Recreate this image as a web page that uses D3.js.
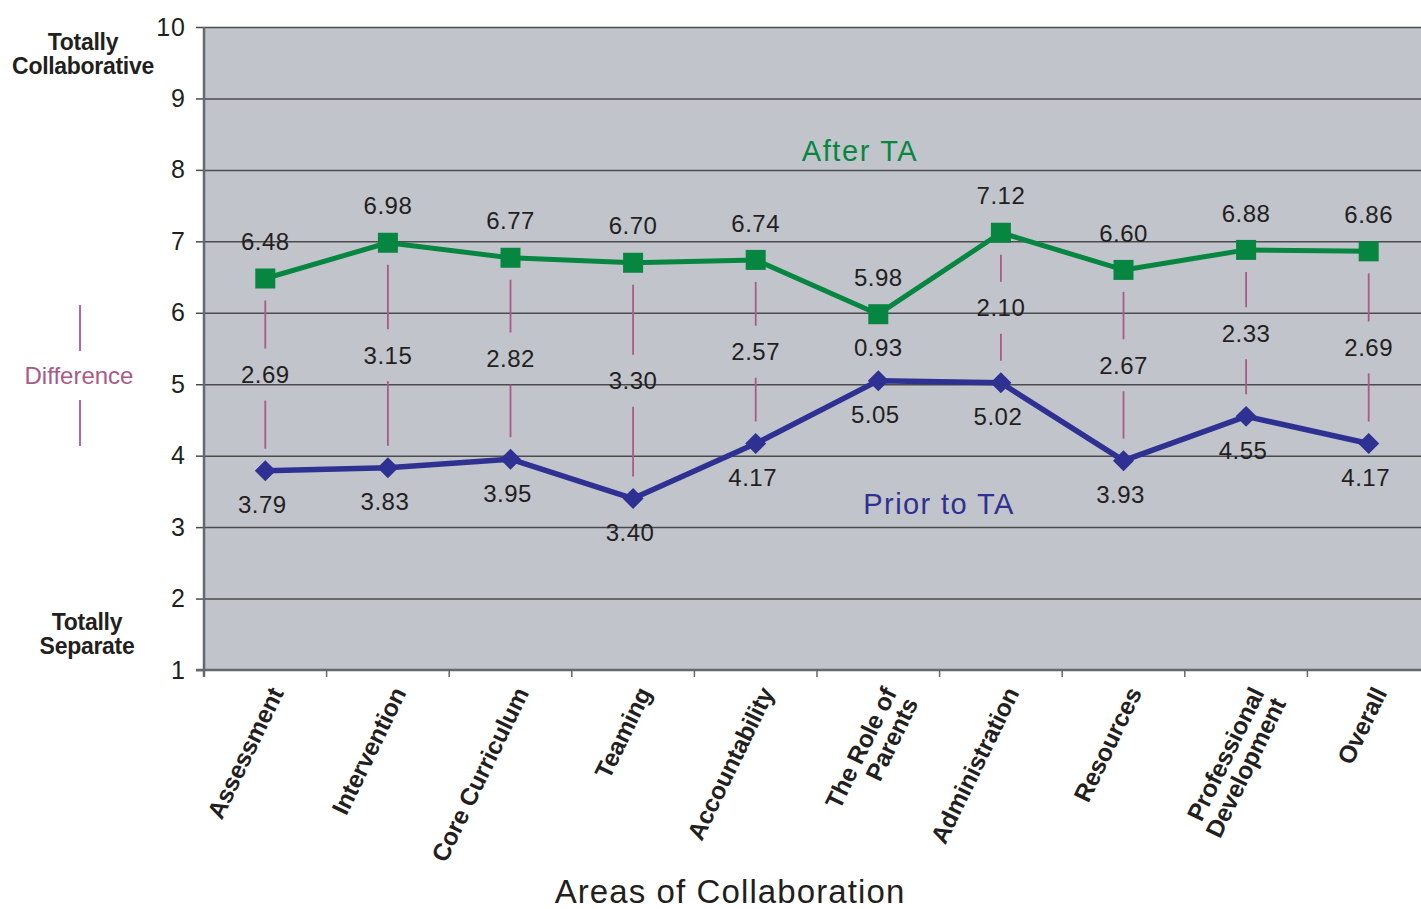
<!DOCTYPE html>
<html>
<head>
<meta charset="utf-8">
<script src="https://cdn.jsdelivr.net/npm/d3@7"></script>
<style>
  html, body { margin: 0; padding: 0; background: #fff; }
  svg { display: block; font-family: "Liberation Sans", Arial, Helvetica, sans-serif; }
</style>
</head>
<body>
<svg id="chart" width="1421" height="909"></svg>
<script>
// Areas of collaboration rated on a 1 (totally separate) to 10 (totally collaborative) scale
const categories = [
  "Assessment", "Intervention", "Core Curriculum", "Teaming", "Accountability",
  "The Role of\nParents", "Administration", "Resources", "Professional\nDevelopment", "Overall"
];
const afterTA = [6.48, 6.98, 6.77, 6.70, 6.74, 5.98, 7.12, 6.60, 6.88, 6.86];
const priorTA = [3.79, 3.83, 3.95, 3.40, 4.17, 5.05, 5.02, 3.93, 4.55, 4.17];
const differences = [2.69, 3.15, 2.82, 3.30, 2.57, 0.93, 2.10, 2.67, 2.33, 2.69];
const yTicks = [1, 2, 3, 4, 5, 6, 7, 8, 9, 10];

const svg = d3.select("#chart");
const W = 1421;

const plot = { left: 204, right: 1430, top: 27, bottom: 670 };

const x = d3.scaleBand().domain(d3.range(categories.length)).range([plot.left, plot.right]).padding(0);
const y = d3.scaleLinear().domain([1, 10]).range([plot.bottom, plot.top]);
const cx = i => x(i) + x.bandwidth() / 2;

const C = {
  bg: "#c1c4cb",
  grid: "#4b4b4d",
  axis: "#65686d",
  green: "#078641",
  blue: "#2e3192",
  pink: "#a95a86",
  text: "#231f20"
};

// plot background
svg.append("rect")
  .attr("x", plot.left).attr("y", plot.top)
  .attr("width", W - plot.left).attr("height", plot.bottom - plot.top)
  .attr("fill", C.bg);

// horizontal gridlines with left tick marks
const yAxis = svg.append("g")
  .attr("transform", `translate(${plot.left},0)`)
  .call(d3.axisLeft(y).tickValues(yTicks).tickFormat(d3.format("d"))
    .tickSize(8).tickPadding(10));
yAxis.select(".domain").remove();
yAxis.selectAll(".tick line").attr("stroke", C.grid).attr("stroke-width", 1.5);
yAxis.selectAll(".tick text")
  .attr("fill", C.text).style("font-size", "25px").style("letter-spacing", "1px");
yAxis.selectAll(".tick").filter(d => d > 1)
  .append("line")
  .attr("x1", 0).attr("x2", W - plot.left)
  .attr("stroke", C.grid).attr("stroke-width", 1.5);

// x axis with boundary ticks
const xAxis = svg.append("g").attr("transform", `translate(0,${plot.bottom})`);
xAxis.append("line")
  .attr("x1", plot.left - 8).attr("x2", W)
  .attr("stroke", C.axis).attr("stroke-width", 2.5);
xAxis.selectAll("line.tk").data(d3.range(categories.length))
  .join("line").attr("class", "tk")
  .attr("x1", i => x(i)).attr("x2", i => x(i))
  .attr("y1", 0).attr("y2", 7)
  .attr("stroke", C.axis).attr("stroke-width", 1.5);

// left axis line
svg.append("line")
  .attr("x1", plot.left).attr("x2", plot.left)
  .attr("y1", plot.top).attr("y2", plot.bottom + 7)
  .attr("stroke", C.axis).attr("stroke-width", 2.5);

// rotated category labels
const catLabels = svg.append("g");
categories.forEach((c, i) => {
  const t = catLabels.append("text")
    .attr("transform", `translate(${cx(i) + 3},${plot.bottom + 15}) rotate(-64)`)
    .attr("text-anchor", "end")
    .attr("fill", C.text)
    .style("font-size", "24.5px").style("font-weight", "bold")
    .style("letter-spacing", "-0.2px");
  c.split("\n").forEach((line, k) => {
    t.append("tspan").attr("x", 0).attr("dy", k === 0 ? "0.72em" : "0.98em").text(line);
  });
});

// difference connectors and labels
const diffG = svg.append("g");
const gap = 26, pad = 22;
d3.range(categories.length).forEach(i => {
  const ya = y(afterTA[i]), yp = y(priorTA[i]);
  const mid = (ya + yp) / 2;
  const segs = [[ya + pad, mid - gap], [mid + gap, yp - pad]];
  segs.forEach(([a, b]) => {
    if (b - a > 4) {
      diffG.append("line")
        .attr("x1", cx(i)).attr("x2", cx(i)).attr("y1", a).attr("y2", b)
        .attr("stroke", C.pink).attr("stroke-width", 1.8);
    }
  });
  diffG.append("text")
    .attr("x", cx(i)).attr("y", mid)
    .attr("dy", "0.36em").attr("text-anchor", "middle")
    .attr("fill", C.text).style("font-size", "24px").style("letter-spacing", "0.5px")
    .text(differences[i].toFixed(2));
});

// series lines
const line = d3.line().x((d, i) => cx(i)).y(d => y(d));
svg.append("path").datum(afterTA).attr("d", line)
  .attr("fill", "none").attr("stroke", C.green).attr("stroke-width", 5)
  .attr("stroke-linejoin", "round");
svg.append("path").datum(priorTA).attr("d", line)
  .attr("fill", "none").attr("stroke", C.blue).attr("stroke-width", 5.5)
  .attr("stroke-linejoin", "round");

// markers
svg.append("g").selectAll("rect").data(afterTA).join("rect")
  .attr("x", (d, i) => cx(i) - 10).attr("y", d => y(d) - 10)
  .attr("width", 20).attr("height", 20).attr("fill", C.green);
svg.append("g").selectAll("path").data(priorTA).join("path")
  .attr("d", d3.symbol().type(d3.symbolSquare).size(220))
  .attr("transform", (d, i) => `translate(${cx(i)},${y(d)}) rotate(45)`)
  .attr("fill", C.blue);

// value labels
svg.append("g").selectAll("text").data(afterTA).join("text")
  .attr("x", (d, i) => cx(i)).attr("y", d => y(d) - 37)
  .attr("dy", "0.36em").attr("text-anchor", "middle")
  .attr("fill", C.text).style("font-size", "24px").style("letter-spacing", "0.5px")
  .text(d => d.toFixed(2));
svg.append("g").selectAll("text").data(priorTA).join("text")
  .attr("x", (d, i) => cx(i) - 3).attr("y", d => y(d) + 34)
  .attr("dy", "0.36em").attr("text-anchor", "middle")
  .attr("fill", C.text).style("font-size", "24px").style("letter-spacing", "0.5px")
  .text(d => d.toFixed(2));

// series names
svg.append("text").attr("x", 860).attr("y", 151).attr("dy", "0.36em")
  .attr("text-anchor", "middle").attr("fill", C.green)
  .style("font-size", "29px").style("letter-spacing", "1.6px").text("After TA");
svg.append("text").attr("x", 939).attr("y", 504).attr("dy", "0.36em")
  .attr("text-anchor", "middle").attr("fill", C.blue)
  .style("font-size", "29px").style("letter-spacing", "1.4px").text("Prior to TA");

// scale anchors on the left
function stacked(lines, xc, ytop) {
  const t = svg.append("text").attr("text-anchor", "middle")
    .attr("fill", C.text).style("font-size", "23px").style("font-weight", "bold")
    .style("letter-spacing", "-0.3px");
  lines.forEach((l, k) => t.append("tspan").attr("x", xc).attr("y", ytop + k * 24).text(l));
}
stacked(["Totally", "Collaborative"], 83, 50);
stacked(["Totally", "Separate"], 87, 630);

// difference key
svg.append("text").attr("x", 79).attr("y", 375).attr("dy", "0.36em")
  .attr("text-anchor", "middle").attr("fill", C.pink)
  .style("font-size", "24px").text("Difference");
[[305, 351], [400, 446]].forEach(([a, b]) => {
  svg.append("line").attr("x1", 80).attr("x2", 80).attr("y1", a).attr("y2", b)
    .attr("stroke", C.pink).attr("stroke-width", 1.8);
});

// axis title
svg.append("text").attr("x", 730).attr("y", 903)
  .attr("text-anchor", "middle").attr("fill", C.text)
  .style("font-size", "33px").style("letter-spacing", "1.1px").text("Areas of Collaboration");
</script>
</body>
</html>
